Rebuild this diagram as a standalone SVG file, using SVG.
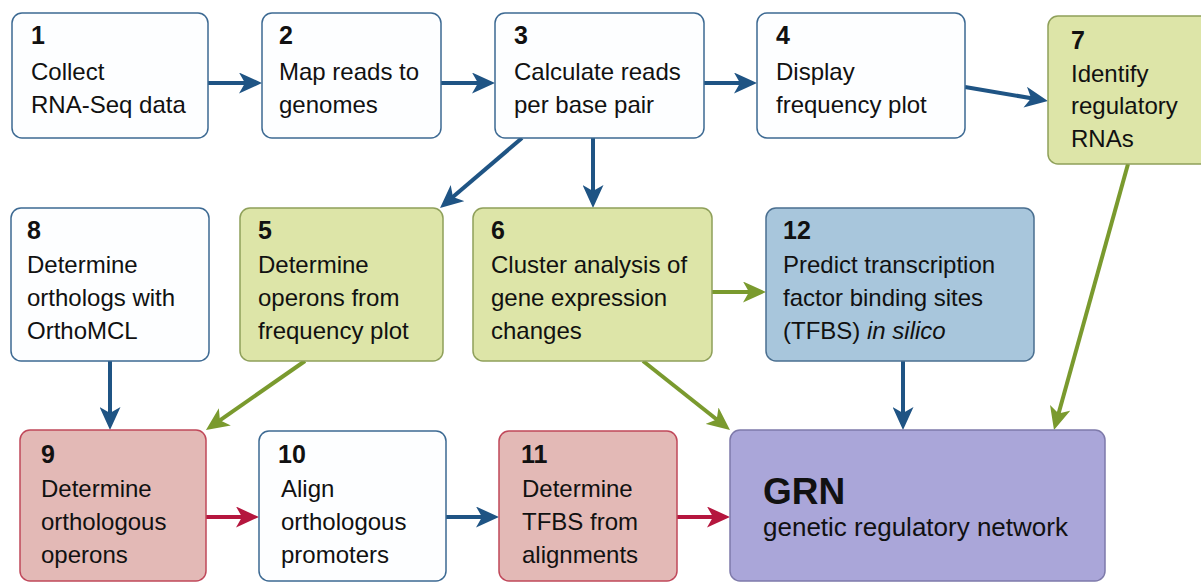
<svg xmlns="http://www.w3.org/2000/svg" width="1201" height="583" viewBox="0 0 1201 583">
<style>
.box{stroke-width:1.5}
.w{fill:#fdfeff;stroke:#3d6a93}
.g{fill:#dde5a8;stroke:#8fa05a}
.r{fill:#e3b9b6;stroke:#c0485a}
.b{fill:#a8c6dc;stroke:#4a6f90}
.p{fill:#aaa6d9;stroke:#7e7aaa}
text{font-family:"Liberation Sans",Arial,sans-serif;font-size:24px;fill:#111}
text.n{font-weight:bold;font-size:25px}
text.big{font-weight:bold;font-size:37px}
text.sub{font-size:26px}
.cb{stroke:#1f5484;stroke-width:4;fill:none}
.cg{stroke:#7a9a2e;stroke-width:4;fill:none}
.cr{stroke:#b5163e;stroke-width:4;fill:none}
</style>
<defs>
<marker id="ab" markerUnits="userSpaceOnUse" markerWidth="23" markerHeight="21" viewBox="0 0 23 21" refX="17" refY="10.5" orient="auto"><path d="M0,0 L23,10.5 L0,21 L6,10.5 Z" fill="#1f5484"/></marker>
<marker id="ag" markerUnits="userSpaceOnUse" markerWidth="23" markerHeight="21" viewBox="0 0 23 21" refX="17" refY="10.5" orient="auto"><path d="M0,0 L23,10.5 L0,21 L6,10.5 Z" fill="#7a9a2e"/></marker>
<marker id="ar" markerUnits="userSpaceOnUse" markerWidth="23" markerHeight="21" viewBox="0 0 23 21" refX="17" refY="10.5" orient="auto"><path d="M0,0 L23,10.5 L0,21 L6,10.5 Z" fill="#b5163e"/></marker>
</defs>
<rect width="1201" height="583" fill="#ffffff"/>
<g id="connectors">
<line class="cb" x1="208" y1="83" x2="256" y2="83" marker-end="url(#ab)"/>
<line class="cb" x1="441" y1="83" x2="489" y2="83" marker-end="url(#ab)"/>
<line class="cb" x1="704" y1="83" x2="751" y2="83" marker-end="url(#ab)"/>
<line class="cb" x1="965" y1="87" x2="1042" y2="100" marker-end="url(#ab)"/>
<line class="cb" x1="522" y1="138" x2="444.6" y2="204.1" marker-end="url(#ab)"/>
<line class="cb" x1="593" y1="138" x2="593" y2="202" marker-end="url(#ab)"/>
<line class="cg" x1="712" y1="292" x2="760" y2="292" marker-end="url(#ag)"/>
<line class="cg" x1="1128" y1="164" x2="1055.6" y2="424.2" marker-end="url(#ag)"/>
<line class="cb" x1="110" y1="361" x2="110" y2="424" marker-end="url(#ab)"/>
<line class="cg" x1="305" y1="361" x2="210.9" y2="426.6" marker-end="url(#ag)"/>
<line class="cg" x1="643" y1="361" x2="725.3" y2="426.3" marker-end="url(#ag)"/>
<line class="cb" x1="903" y1="361" x2="903" y2="424" marker-end="url(#ab)"/>
<line class="cr" x1="206" y1="517" x2="253" y2="517" marker-end="url(#ar)"/>
<line class="cb" x1="446" y1="517" x2="493" y2="517" marker-end="url(#ab)"/>
<line class="cr" x1="677" y1="517" x2="724" y2="517" marker-end="url(#ar)"/>
</g>
<g id="node1"><rect class="box w" x="12" y="13" width="196" height="125" rx="10"/>
<text class="n" x="31" y="44">1</text><text x="31" y="80">Collect</text><text x="31" y="113">RNA-Seq data</text></g>
<g id="node2"><rect class="box w" x="262" y="13" width="179" height="125" rx="10"/>
<text class="n" x="279" y="44">2</text><text x="279" y="80">Map reads to</text><text x="279" y="113">genomes</text></g>
<g id="node3"><rect class="box w" x="495" y="13" width="209" height="125" rx="10"/>
<text class="n" x="514" y="44">3</text><text x="514" y="80">Calculate reads</text><text x="514" y="113">per base pair</text></g>
<g id="node4"><rect class="box w" x="757" y="13" width="208" height="125" rx="10"/>
<text class="n" x="776" y="44">4</text><text x="776" y="80">Display</text><text x="776" y="113">frequency plot</text></g>
<g id="node7"><rect class="box g" x="1048" y="16" width="165" height="148" rx="10"/>
<text class="n" x="1071" y="49">7</text><text x="1071" y="82">Identify</text><text x="1071" y="114">regulatory</text><text x="1071" y="147">RNAs</text></g>
<g id="node8"><rect class="box w" x="11" y="208" width="198" height="153" rx="10"/>
<text class="n" x="27" y="239">8</text><text x="27" y="273">Determine</text><text x="27" y="306">orthologs with</text><text x="27" y="339">OrthoMCL</text></g>
<g id="node5"><rect class="box g" x="240" y="208" width="203" height="153" rx="10"/>
<text class="n" x="258" y="239">5</text><text x="258" y="273">Determine</text><text x="258" y="306">operons from</text><text x="258" y="339">frequency plot</text></g>
<g id="node6"><rect class="box g" x="473" y="208" width="239" height="153" rx="10"/>
<text class="n" x="491" y="239">6</text><text x="491" y="273">Cluster analysis of</text><text x="491" y="306">gene expression</text><text x="491" y="339">changes</text></g>
<g id="node12"><rect class="box b" x="766" y="208" width="268" height="153" rx="10"/>
<text class="n" x="783" y="239">12</text><text x="783" y="273">Predict transcription</text><text x="783" y="306">factor binding sites</text><text x="783" y="339">(TFBS) <tspan font-style="italic">in silico</tspan></text></g>
<g id="node9"><rect class="box r" x="20" y="430" width="186" height="151" rx="10"/>
<text class="n" x="41" y="463">9</text><text x="41" y="497">Determine</text><text x="41" y="530">orthologous</text><text x="41" y="563">operons</text></g>
<g id="node10"><rect class="box w" x="259" y="431" width="187" height="150" rx="10"/>
<text class="n" x="278" y="463">10</text><text x="281" y="497">Align</text><text x="281" y="530">orthologous</text><text x="281" y="563">promoters</text></g>
<g id="node11"><rect class="box r" x="499" y="431" width="178" height="150" rx="10"/>
<text class="n" x="521" y="463">11</text><text x="522" y="497">Determine</text><text x="522" y="530">TFBS from</text><text x="522" y="563">alignments</text></g>
<g id="nodeGRN"><rect class="box p" x="730" y="430" width="375" height="151" rx="10"/>
<text class="big" x="763" y="504">GRN</text><text class="sub" x="763" y="536">genetic regulatory network</text></g>
</svg>
